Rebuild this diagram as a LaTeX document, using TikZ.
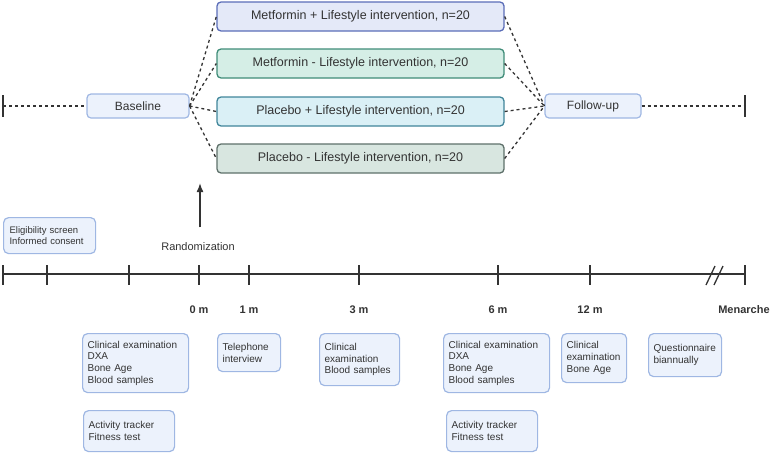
\documentclass[tikz,border=0pt]{standalone}
\usepackage{fontspec}
\setmainfont{Liberation Sans}
\usetikzlibrary{arrows.meta,positioning}

\definecolor{boxfill}{HTML}{ECF2FC}
\definecolor{boxline}{HTML}{9FB7E3}
\definecolor{armAfill}{HTML}{E4E9F8}
\definecolor{armAline}{HTML}{5B6DB8}
\definecolor{armBfill}{HTML}{D5EEE6}
\definecolor{armBline}{HTML}{3F8C78}
\definecolor{armCfill}{HTML}{DAF0F6}
\definecolor{armCline}{HTML}{40859A}
\definecolor{armDfill}{HTML}{D8E6E0}
\definecolor{armDline}{HTML}{5E706A}
\definecolor{ink}{HTML}{333333}

\tikzset{
  box/.style={draw=boxline, fill=boxfill, rounded corners=5pt, line width=1.2pt,
    align=left, inner xsep=5pt, anchor=north west, text=ink,
    font=\fontsize{10}{11.7}\selectfont},
  stagebox/.style={draw=boxline, fill=boxfill, rounded corners=4pt, line width=1.2pt,
    minimum height=24pt, text=ink, font=\fontsize{12}{14}\selectfont},
  arm/.style={rounded corners=4pt, line width=1.3pt, minimum width=287pt,
    minimum height=29pt, text=ink, font=\fontsize{12.5}{14}\selectfont},
  link/.style={draw=ink, line width=1.3pt, dash pattern=on 3pt off 3pt},
  axis/.style={draw=ink, line width=1.5pt},
  mlabel/.style={text=ink, font=\fontsize{11}{13}\selectfont\bfseries},
}

\begin{document}
\begin{tikzpicture}[>={Latex[length=9pt,width=7pt]}, x=1pt, y=-1pt]
		\useasboundingbox (0,0) rectangle (778,453);

		% 1. Study arms
		\node[stagebox, minimum width=102pt] (base) at (138,106) {Baseline};
		\node[stagebox, minimum width=96pt] (follow) at (593,106) {Follow-up};

		\node[arm, draw=armAline, fill=armAfill] (armA) at (360.5,16.5) {Metformin + Lifestyle intervention, n=20};
		\node[arm, draw=armBline, fill=armBfill] (armB) at (360.5,63.5) {Metformin - Lifestyle intervention, n=20};
		\node[arm, draw=armCline, fill=armCfill] (armC) at (360.5,111.5) {Placebo + Lifestyle intervention, n=20};
		\node[arm, draw=armDline, fill=armDfill] (armD) at (360.5,158.5) {Placebo - Lifestyle intervention, n=20};

		% dashed links, baseline -> arms -> follow-up
		\coordinate (startT) at (3,106);
		\coordinate (endT) at (745,106);
		\draw[link] (startT) -- (base.west);
		\draw[link] (follow.east) -- (endT);
		\foreach \a in {armA,armB,armC,armD} {
			\draw[link] (base.east) -- (\a.west);
			\draw[link] (\a.east) -- (follow.west);
		}
		\draw[axis] (3,95) -- (3,117);
		\draw[axis] (745,95) -- (745,117);

		% 2. Randomization arrow
		\node[text=ink, font=\fontsize{11}{13}\selectfont] (rand) at (198,247) {Randomization};
		\coordinate (randtip) at (200,183);
		\draw[->, ink, line width=1.5pt] ([yshift=12pt]rand.north -| randtip) -- (randtip);

		% 3. Timeline with ticks
		\draw[axis] (3,274) -- (745,274);
		\foreach \t in {3,47,129,199,249,359,498,590,745}
			\draw[axis] (\t,265) -- (\t,285);
		% break mark
		\draw[axis, line width=1.3pt] (706,285) -- (715,266);
		\draw[axis, line width=1.3pt] (714,285) -- (723,266);

		% tick labels
		\foreach \t/\lbl [count=\i] in {199/0 m, 249/1 m, 359/3 m, 498/6 m, 590/12 m}
			\node[mlabel] (m\i) at (\t,310) {\lbl};
		\node[mlabel] (menarche) at (744,310) {Menarche};

		% 4. Visit boxes
		\node[box, text width=80pt, minimum height=36pt, inner xsep=6pt,
			font=\fontsize{9.5}{11.5}\selectfont] (elig) at (3,217) {Eligibility screen\\Informed consent};

		\node[box, text width=96pt, minimum height=59pt] (visit0) at (82,333) {Clinical examination\\DXA\\Bone Age\\Blood samples};
		\node[box, text width=81pt, minimum height=41pt] (act0) at (83,410) {Activity tracker\\Fitness test};
		\node[box, text width=53pt, minimum height=38pt] (visit1) at (217,333) {Telephone\\interview};
		\node[box, text width=70pt, minimum height=52pt] (visit3) at (319,333) {Clinical\\examination\\Blood samples};
		\node[box, text width=96pt, minimum height=59pt] (visit6) at (443,333) {Clinical examination\\DXA\\Bone Age\\Blood samples};
		\node[box, text width=81pt, minimum height=41pt] (act6) at (446,410) {Activity tracker\\Fitness test};
		\node[box, text width=55pt, minimum height=49pt] (visit12) at (561,333) {Clinical\\examination\\Bone Age};
		\node[box, text width=63pt, minimum height=43pt] (quest) at (648,333) {Questionnaire\\biannually};
	\end{tikzpicture}
\end{document}
